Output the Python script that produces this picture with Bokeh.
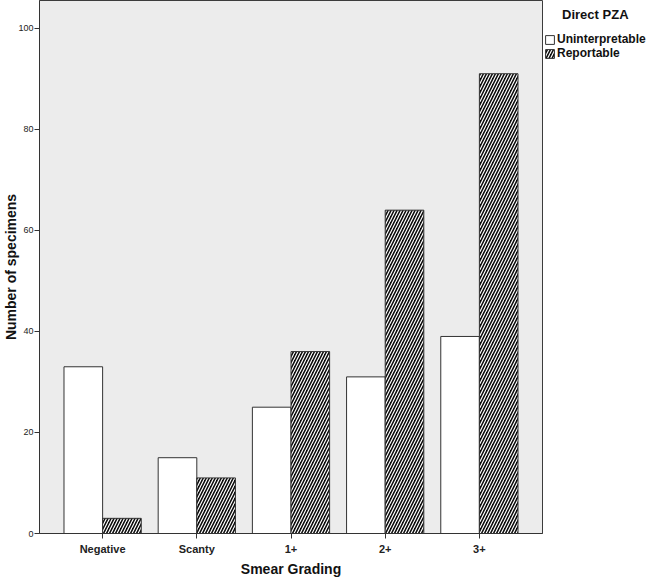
from bokeh.plotting import figure
from bokeh.models import ColumnDataSource, FactorRange, Range1d, Legend, LegendItem
from bokeh.transform import dodge
from bokeh.embed import file_html
from bokeh.resources import INLINE

categories = ["Negative", "Scanty", "1+", "2+", "3+"]
uninterpretable = [33, 15, 25, 31, 39]
reportable = [3, 11, 36, 64, 91]
y_ticks = [0, 20, 40, 60, 80, 100]

src = ColumnDataSource(dict(cat=categories, unint=uninterpretable, rep=reportable))

FONT = "Liberation Sans"

p = figure(output_backend="svg", toolbar_location=None,
           x_range=FactorRange(factors=categories, range_padding=0.068),
           y_range=Range1d(0, 105.5),
           min_border_left=0, min_border_right=0, min_border_top=0, min_border_bottom=0)
p.frame_width = 503
p.frame_height = 533

p.background_fill_color = "#ececec"
p.border_fill_color = "white"
p.outline_line_color = "#3c3c3c"
p.outline_line_width = 1
p.xgrid.grid_line_color = None
p.ygrid.grid_line_color = None

r1 = p.vbar(x=dodge("cat", -0.205, range=p.x_range), top="unint", width=0.41, source=src,
            fill_color="white", line_color="#333333", line_width=1)
r2 = p.vbar(x=dodge("cat", 0.205, range=p.x_range), top="rep", width=0.41, source=src,
            fill_color="#0a0a0a", line_color="#333333", line_width=1,
            hatch_pattern="/", hatch_color="white", hatch_scale=6, hatch_weight=1.2)

# axes
p.yaxis.ticker = y_ticks
p.yaxis.axis_label = "Number of specimens"
p.yaxis.axis_label_text_font = FONT
p.yaxis.axis_label_text_font_style = "bold"
p.yaxis.axis_label_text_font_size = "14px"
p.yaxis.axis_label_text_color = "#111111"
p.yaxis.major_label_text_font = FONT
p.yaxis.major_label_text_font_size = "9px"
p.yaxis.major_label_text_color = "#222222"
p.yaxis.minor_tick_line_color = None
p.yaxis.major_tick_in = 0
p.yaxis.major_tick_out = 5
p.yaxis.major_label_standoff = 1
p.yaxis.axis_line_color = "#333333"
p.yaxis.major_tick_line_color = "#333333"
p.yaxis.axis_label_standoff = -4

p.xaxis.axis_label = "Smear Grading"
p.xaxis.axis_label_text_font = FONT
p.xaxis.axis_label_text_font_style = "bold"
p.xaxis.axis_label_text_font_size = "14px"
p.xaxis.axis_label_text_color = "#111111"
p.xaxis.major_label_text_font = FONT
p.xaxis.major_label_text_font_style = "bold"
p.xaxis.major_label_text_font_size = "11px"
p.xaxis.major_label_text_color = "#222222"
p.xaxis.major_tick_in = 0
p.xaxis.major_tick_out = 5
p.xaxis.major_label_standoff = 4
p.xaxis.axis_line_color = "#333333"
p.xaxis.major_tick_line_color = "#333333"
p.xaxis.axis_label_standoff = 3

legend = Legend(items=[LegendItem(label="Uninterpretable", renderers=[r1]),
                       LegendItem(label="Reportable", renderers=[r2])],
                location=(2, 473), orientation="vertical",
                title="\u00a0\u00a0\u00a0\u00a0\u00a0Direct PZA",
                title_text_font=FONT, title_text_font_style="bold", title_text_font_size="13px",
                title_text_color="#111111", title_standoff=10,
                background_fill_alpha=0, border_line_color=None,
                label_text_font=FONT, label_text_font_style="bold", label_text_font_size="12px",
                label_text_color="#111111",
                glyph_width=11, glyph_height=11, label_height=12, label_standoff=2,
                spacing=0, padding=0, margin=0)
p.add_layout(legend, "right")

open("out.html", "w").write(file_html(p, INLINE))
